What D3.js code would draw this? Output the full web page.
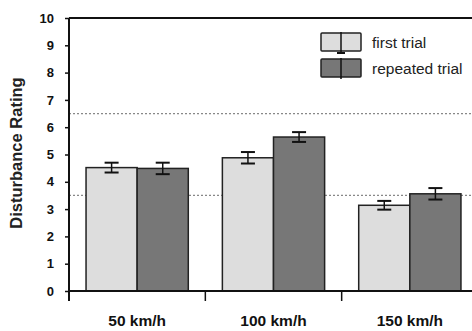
<!DOCTYPE html>
<html>
<head>
<meta charset="utf-8">
<script src="https://cdn.jsdelivr.net/npm/d3@7"></script>
<style>
  body { margin: 0; background: #fff; }
  svg { display: block; font-family: "Liberation Sans", Arial, sans-serif; }
</style>
</head>
<body>
<div id="chart"></div>
<script>
const categories = ["50 km/h", "100 km/h", "150 km/h"]
const series = ["first trial", "repeated trial"]
const firstTrial = [4.52, 4.88, 3.14]
const repeatedTrial = [4.49, 5.64, 3.56]
const firstErr = [0.18, 0.21, 0.16]
const repeatedErr = [0.21, 0.18, 0.21]
const refLines = [3.5, 6.5]
const yTicks = [0, 1, 2, 3, 4, 5, 6, 7, 8, 9, 10]

const colors = ["#dddddd", "#777777"]
const W = 472, H = 331
const mLeft = 69, mRight = 478, mTop = 18, mBottom = 291

const svg = d3.select('#chart').append('svg').attr('width', W).attr('height', H)

const y = d3.scaleLinear().domain([0, 10]).range([mBottom, mTop])
const x0 = d3.scaleBand().domain(categories).range([mLeft, mRight])
  .paddingInner(0.25).paddingOuter(0.125)
const x1 = d3.scaleBand().domain(series).range([0, x0.bandwidth()])

const rows = categories.map((c, i) => ({
  cat: c,
  vals: [
    { s: series[0], v: firstTrial[i], e: firstErr[i] },
    { s: series[1], v: repeatedTrial[i], e: repeatedErr[i] }
  ]
}))

// dotted reference lines (behind bars)
svg.selectAll('.ref').data(refLines).enter().append('line')
  .attr('x1', mLeft).attr('x2', W)
  .attr('y1', d => y(d)).attr('y2', d => y(d))
  .attr('stroke', '#888').attr('stroke-width', 1.2)
  .attr('stroke-dasharray', '2,2')

// bars
const g = svg.selectAll('.grp').data(rows).enter().append('g')
  .attr('transform', d => `translate(${x0(d.cat)},0)`)

g.selectAll('rect').data(d => d.vals).enter().append('rect')
  .attr('x', d => x1(d.s))
  .attr('y', d => y(d.v))
  .attr('width', x1.bandwidth())
  .attr('height', d => y(0) - y(d.v))
  .attr('fill', (d, i) => colors[i])
  .attr('stroke', '#222').attr('stroke-width', 1.5)

// error bars
const cx = d => x1(d.s) + x1.bandwidth() / 2
const eb = g.selectAll('.eb').data(d => d.vals).enter().append('g')
  .attr('stroke', '#111').attr('stroke-width', 2)
eb.append('line')
  .attr('x1', cx).attr('x2', cx)
  .attr('y1', d => y(d.v + d.e)).attr('y2', d => y(d.v - d.e))
  .attr('stroke-width', 1.5)
eb.append('line')
  .attr('x1', d => cx(d) - 7).attr('x2', d => cx(d) + 7)
  .attr('y1', d => y(d.v + d.e)).attr('y2', d => y(d.v + d.e))
eb.append('line')
  .attr('x1', d => cx(d) - 7).attr('x2', d => cx(d) + 7)
  .attr('y1', d => y(d.v - d.e)).attr('y2', d => y(d.v - d.e))

// top border
svg.append('line').attr('x1', mLeft).attr('x2', W).attr('y1', mTop).attr('y2', mTop)
  .attr('stroke', '#111').attr('stroke-width', 2)

// y axis
const yAxis = svg.append('g').attr('transform', `translate(${mLeft},0)`)
  .call(d3.axisLeft(y).tickValues(yTicks).tickSize(4).tickPadding(11))
yAxis.select('.domain').remove()
yAxis.append('line').attr('x1', 0).attr('x2', 0).attr('y1', mTop).attr('y2', mBottom + 10)
  .attr('stroke', '#111').attr('stroke-width', 2)
yAxis.selectAll('.tick line').attr('stroke', '#111').attr('stroke-width', 1.5)
yAxis.selectAll('.tick text').attr('fill', '#111').attr('font-size', 13)
  .attr('font-weight', 'bold').attr('font-family', '"Liberation Sans", Arial, sans-serif')

// x axis
const step = x0.step()
const bounds = categories.map(c => x0(c) - step * x0.paddingInner() / 2)
const xAxis = svg.append('g')
xAxis.append('line').attr('x1', mLeft).attr('x2', W).attr('y1', mBottom).attr('y2', mBottom)
  .attr('stroke', '#111').attr('stroke-width', 2)
xAxis.selectAll('.xt').data(bounds).enter().append('line')
  .attr('x1', d => d).attr('x2', d => d).attr('y1', mBottom).attr('y2', mBottom + 10)
  .attr('stroke', '#111').attr('stroke-width', 1.5)
xAxis.selectAll('.xl').data(categories).enter().append('text')
  .attr('x', d => x0(d) + x0.bandwidth() / 2).attr('y', 326)
  .attr('text-anchor', 'middle').attr('font-size', 15.5).attr('font-weight', 'bold')
  .attr('fill', '#111').text(d => d)

// y title
svg.append('text')
  .attr('transform', `translate(22,153) rotate(-90)`)
  .attr('text-anchor', 'middle').attr('font-size', 16.5).attr('font-weight', 'bold')
  .attr('fill', '#222').text('Disturbance Rating')

// legend
const leg = svg.append('g').attr('transform', 'translate(321,33)')
series.forEach((s, i) => {
  const ly = i * 26
  leg.append('rect').attr('x', 0).attr('y', ly).attr('width', 40).attr('height', 18)
    .attr('fill', colors[i]).attr('stroke', '#222').attr('stroke-width', 1.5).attr('rx', 1)
  leg.append('line').attr('x1', 20).attr('x2', 20).attr('y1', ly - 1).attr('y2', ly + 20)
    .attr('stroke', '#111').attr('stroke-width', 1.5)
  if (i === 0) {
    leg.append('line').attr('x1', 16).attr('x2', 24).attr('y1', ly + 20).attr('y2', ly + 20)
      .attr('stroke', '#111').attr('stroke-width', 2)
  }
  leg.append('text').attr('x', 51).attr('y', ly + 15).attr('font-size', 15.5)
    .attr('fill', '#222').text(s)
})
</script>
</body>
</html>
